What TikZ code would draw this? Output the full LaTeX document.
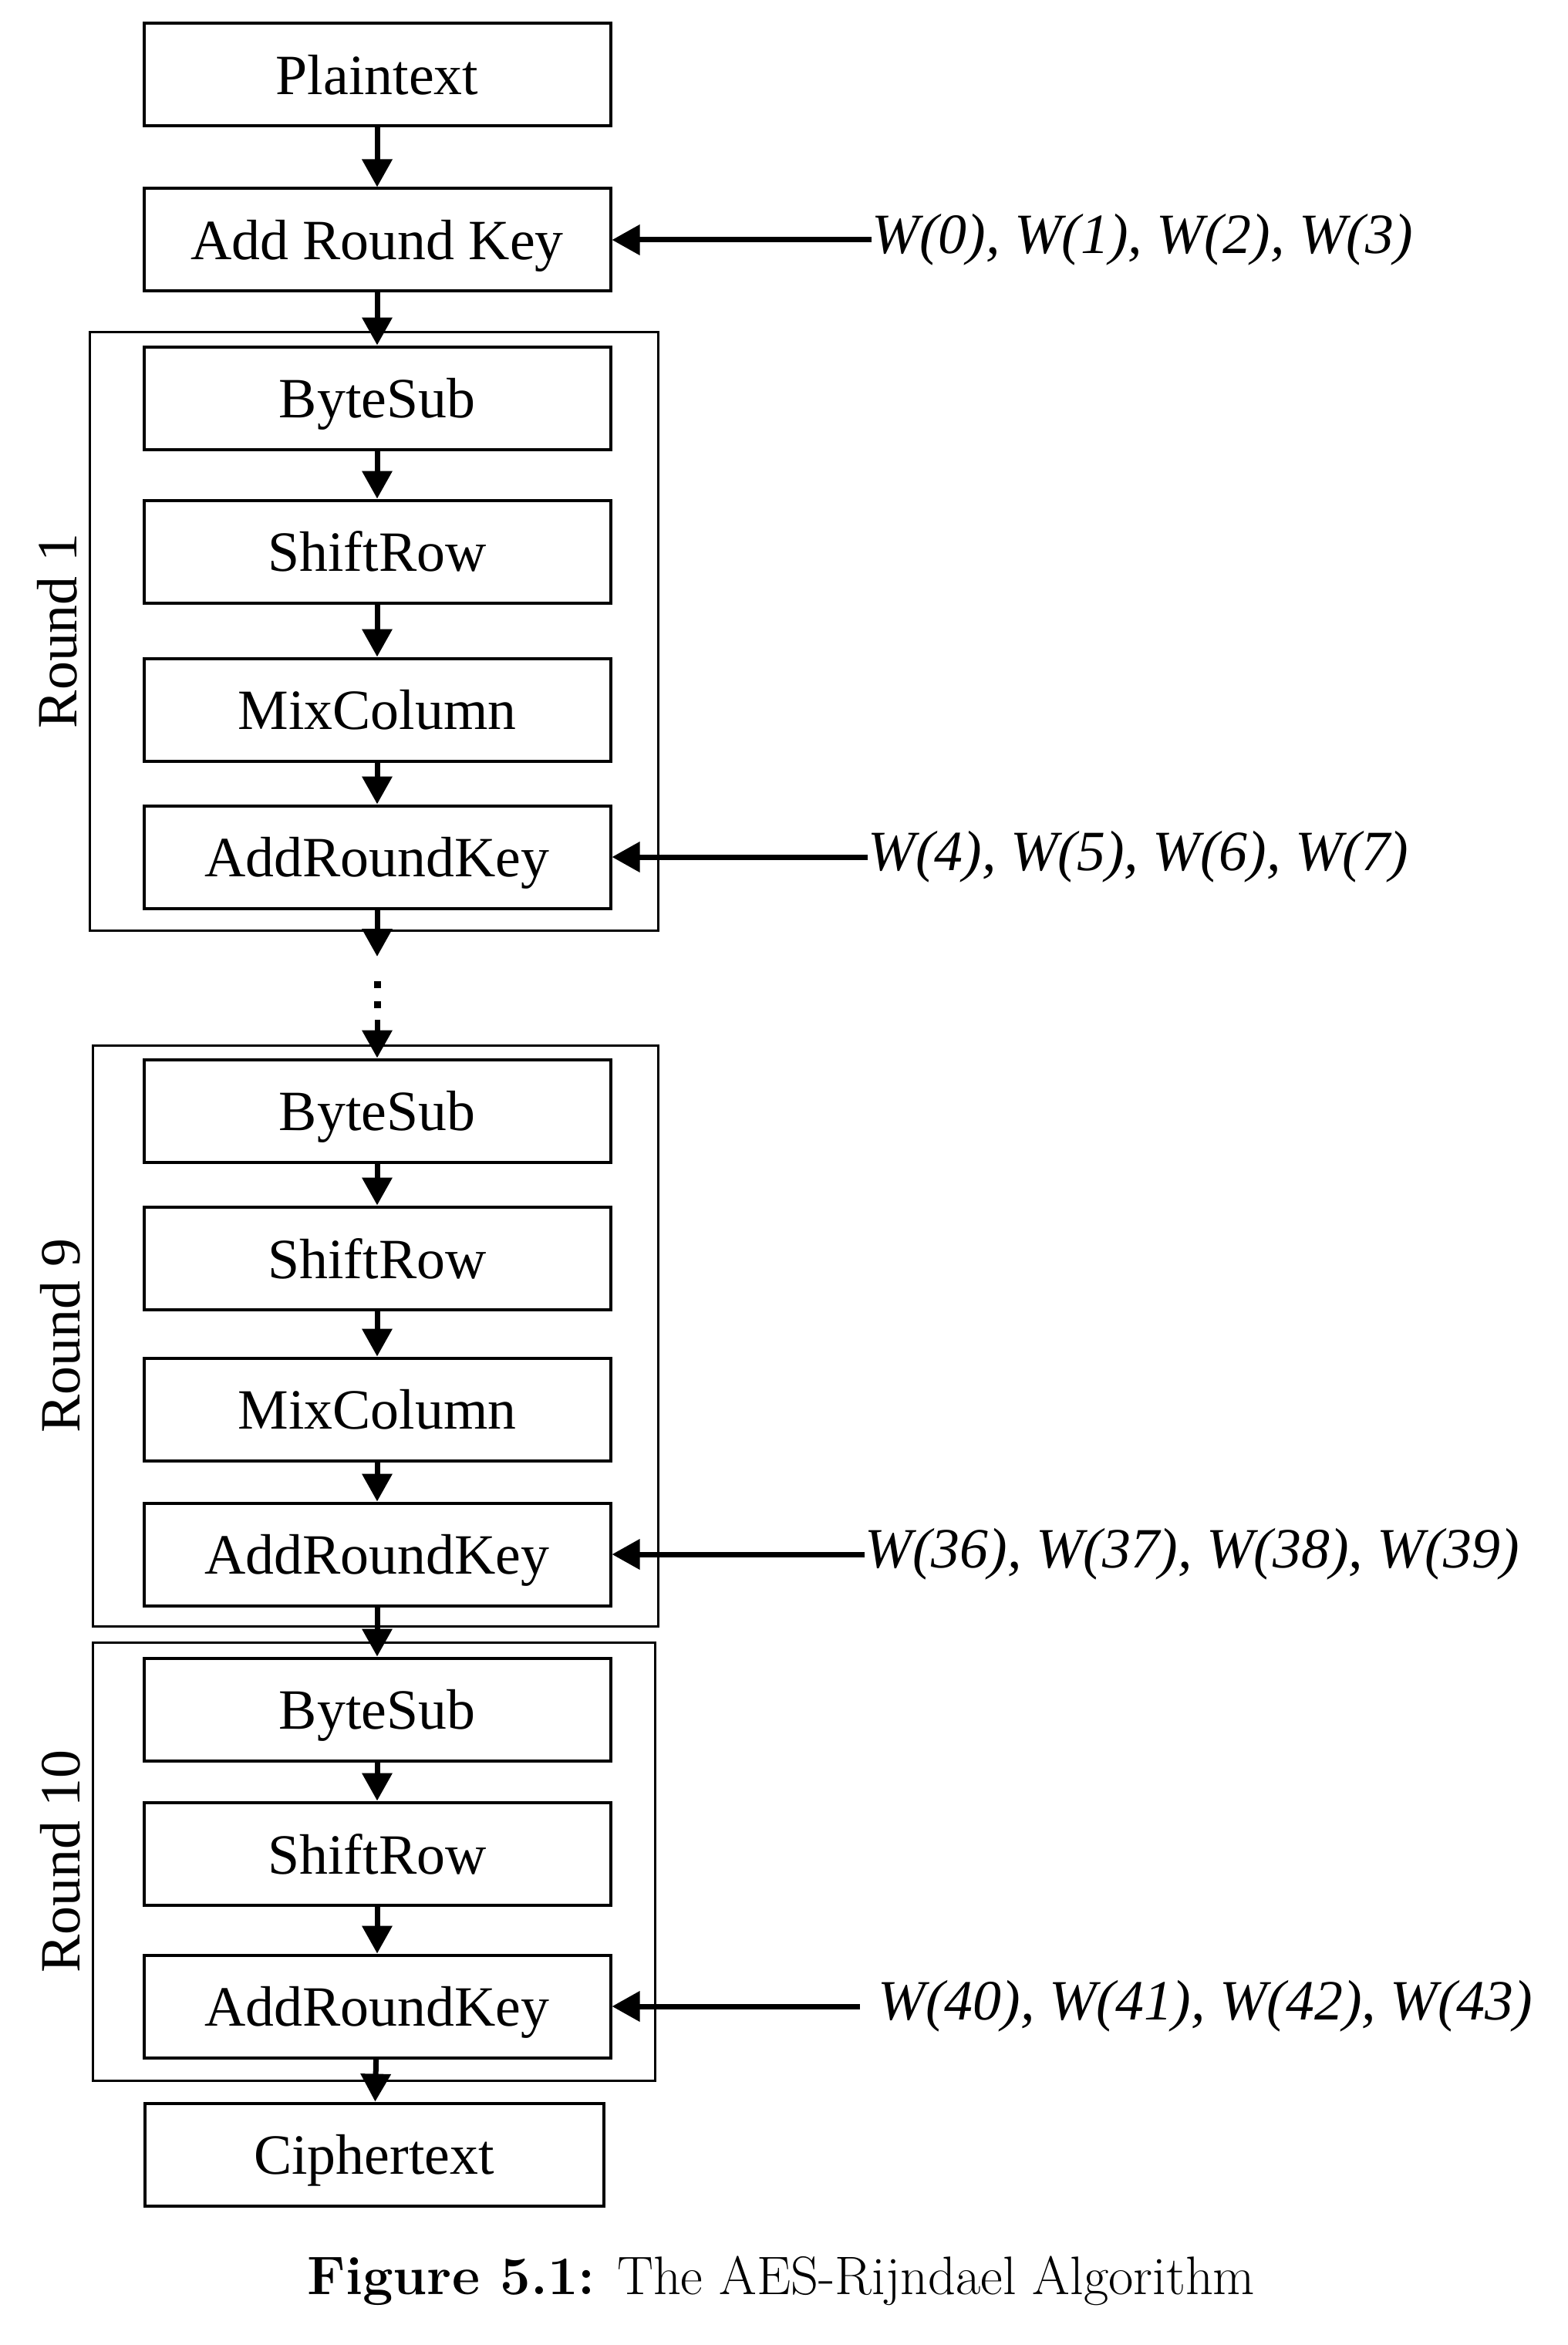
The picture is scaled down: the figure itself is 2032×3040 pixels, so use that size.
\documentclass[tikz,border=0pt]{standalone}
\usepackage{fontspec}
\usepackage{tikz}
\usetikzlibrary{arrows.meta}
\newfontfamily\boxfont{Liberation Serif}

\begin{document}
\begin{tikzpicture}[x=0.1mm, y=-0.1mm,
		stepbox/.style={draw, line width=0.4mm, minimum width=60.5mm, minimum height=13.3mm, inner sep=0pt, text depth=0pt, font=\boxfont\fontsize{21}{25}\selectfont},
		roundframe/.style={draw, line width=0.3mm, inner sep=0pt},
		roundlabel/.style={rotate=90, anchor=south, inner sep=0pt, font=\boxfont\fontsize{21}{25}\selectfont},
		keylabel/.style={anchor=west, inner sep=0pt, font=\boxfont\itshape\fontsize{21}{25}\selectfont},
		flow/.style={line width=0.7mm, -{Triangle[length=3.6mm, width=3.8mm]}},
	]
	\useasboundingbox (0,0) rectangle (2032,3040);

	% initial round
	\node[stepbox] (plain) at (489,97) {Plaintext};
	\node[stepbox] (ark0) at (489,311) {Add Round Key};
	\node[keylabel] (key0) at (1130,311) {W(0), W(1), W(2), W(3)};

	% round 1
	\node[roundframe, minimum width=73.7mm, minimum height=77.6mm] (r1) at (484.5,818) {};
	\node[roundlabel] (r1label) at ([xshift=-1.4mm]r1.west) {Round 1};
	\node[stepbox] (bs1) at (489,516) {ByteSub};
	\node[stepbox] (sr1) at (489,715) {ShiftRow};
	\node[stepbox] (mc1) at (489,920) {MixColumn};
	\node[stepbox] (ark1) at (489,1111) {AddRoundKey};
	\node[keylabel] (key1) at (1125,1111) {W(4), W(5), W(6), W(7)};

	% rounds 2..8 left out
	\coordinate (cut1) at (489,1240);
	\coordinate (dotsA) at (489,1272);
	\coordinate (dotsB) at (489,1322);

	% round 9
	\node[roundframe, minimum width=73.3mm, minimum height=75.3mm] (r9) at (486.5,1731.5) {};
	\node[roundlabel] (r9label) at ([xshift=-1.4mm]r9.west) {Round 9};
	\node[stepbox] (bs9) at (489,1440) {ByteSub};
	\node[stepbox] (sr9) at (489,1631) {ShiftRow};
	\node[stepbox] (mc9) at (489,1827) {MixColumn};
	\node[stepbox] (ark9) at (489,2015) {AddRoundKey};
	\node[keylabel] (key9) at (1121,2015) {W(36), W(37), W(38), W(39)};

	% round 10, no MixColumn
	\node[roundframe, minimum width=72.9mm, minimum height=56.8mm] (r10) at (484.5,2413) {};
	\node[roundlabel] (r10label) at ([xshift=-1.4mm]r10.west) {Round 10};
	\node[stepbox] (bs10) at (489,2216) {ByteSub};
	\node[stepbox] (sr10) at (489,2403) {ShiftRow};
	\node[stepbox] (ark10) at (489,2601) {AddRoundKey};
	\node[keylabel] (key10) at (1138,2601) {W(40), W(41), W(42), W(43)};
	\node[stepbox, minimum width=59.5mm] (cipher) at (485,2793) {Ciphertext};

	\draw[flow] (plain) -- (ark0);
	\draw[flow] (ark0) -- (bs1);
	\draw[flow] (bs1) -- (sr1);
	\draw[flow] (sr1) -- (mc1);
	\draw[flow] (mc1) -- (ark1);
	\draw[flow] (ark1) -- (cut1);
	\draw[line width=0.9mm, dash pattern=on 0.9mm off 1.7mm] (dotsA) -- (dotsB);
	\draw[flow] (dotsB) -- (bs9);
	\draw[flow] (bs9) -- (sr9);
	\draw[flow] (sr9) -- (mc9);
	\draw[flow] (mc9) -- (ark9);
	\draw[flow] (ark9) -- (bs10);
	\draw[flow] (bs10) -- (sr10);
	\draw[flow] (sr10) -- (ark10);
	\draw[flow] (ark10) -- (cipher);

	% round keys
	\draw[flow] (key0) -- (ark0);
	\draw[flow] (key1) -- (ark1);
	\draw[flow] (key9) -- (ark9);
	\draw[flow, shorten <=2.3mm] (key10) -- (ark10);

	\node[font=\fontsize{20}{24}\selectfont] (caption) at (1013,2957) {\textbf{Figure 5.1:} The AES-Rijndael Algorithm};
\end{tikzpicture}
\end{document}
